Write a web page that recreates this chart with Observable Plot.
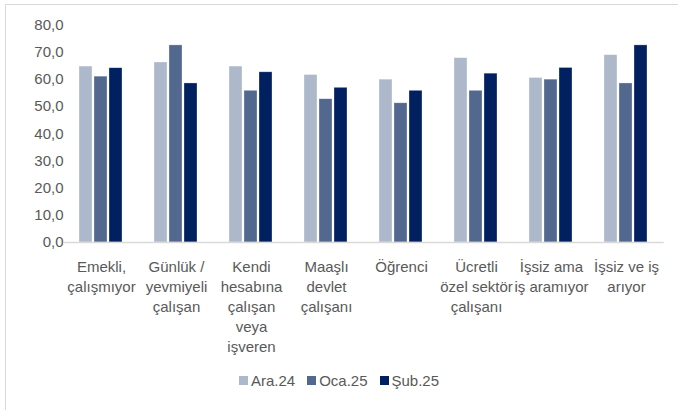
<!DOCTYPE html>
<html>
<head>
<meta charset="utf-8">
<script src="https://cdn.jsdelivr.net/npm/d3@7"></script>
<script src="https://cdn.jsdelivr.net/npm/@observablehq/plot@0.6"></script>
<style>
  html, body { margin: 0; padding: 0; background: #fff; }
  body { width: 678px; height: 410px; position: relative; overflow: hidden; font-family: "Liberation Sans", Arial, sans-serif; }
  #frame { position: absolute; left: 5px; top: 4px; width: 700px; height: 440px; border: 1px solid #d9d9d9; box-sizing: border-box; }
  #chart { position: absolute; left: 0; top: 0; }
  #legend { position: absolute; left: 0; width: 678px; top: 372px; display: flex; justify-content: center; gap: 12px; font-size: 15px; color: #595959; }
  #legend span.item { display: inline-flex; align-items: center; }
  #legend span.sw { display: inline-block; width: 9px; height: 9px; margin-right: 3px; }
</style>
</head>
<body>
<div id="frame"></div>
<div id="chart"></div>
<div id="legend"></div>
<script>
const categories = [
  "Emekli,\nçalışmıyor",
  "Günlük /\nyevmiyeli\nçalışan",
  "Kendi\nhesabına\nçalışan\nveya\nişveren",
  "Maaşlı\ndevlet\nçalışanı",
  "Öğrenci",
  "Ücretli\nözel sektör\nçalışanı",
  "İşsiz ama\niş aramıyor",
  "İşsiz ve iş\narıyor"
];
const seriesNames = ["Ara.24", "Oca.25", "Şub.25"];
const ara24 = [64.7, 66.2, 64.7, 61.6, 59.9, 67.8, 60.5, 68.9];
const oca25 = [61.0, 72.5, 55.8, 52.7, 51.2, 55.8, 59.9, 58.5];
const sub25 = [64.1, 58.5, 62.6, 56.9, 55.8, 62.1, 64.2, 72.5];
const colors = ["#adb9ca", "#53688f", "#002060"];
const yTicks = [0, 10, 20, 30, 40, 50, 60, 70, 80];

const seriesValues = [ara24, oca25, sub25];
const data = [];
categories.forEach((c, i) => {
  seriesNames.forEach((s, j) => data.push({category: c, series: s, value: seriesValues[j][i]}));
});

const chart = Plot.plot({
  width: 678,
  height: 360,
  marginLeft: 63,
  marginRight: 14,
  marginTop: 24.5,
  marginBottom: 118,
  style: {fontFamily: "'Liberation Sans', Arial, sans-serif", color: "#595959", background: "transparent"},
  fx: {domain: categories, paddingInner: 0.388, paddingOuter: 0.194, label: null, axis: null},
  x: {domain: seriesNames, paddingInner: 0.12, paddingOuter: 0, axis: null},
  y: {domain: [0, 80], ticks: yTicks, tickFormat: d => d.toFixed(1).replace(".", ","), tickSize: 0, tickPadding: 15, label: null},
  color: {domain: seriesNames, range: colors},
  marks: [
    Plot.barY(data, {fx: "category", x: "series", y: "value", fill: "series", stroke: "#ffffff", strokeOpacity: 0.5, strokeWidth: 0.6}),
    Plot.ruleY([0], {stroke: "#d9d9d9", strokeWidth: 1.5, insetLeft: -14.7, insetRight: -14.7}),
    Plot.axisFx({anchor: "bottom", tickSize: 0, tickPadding: 15, fontSize: 15, lineHeight: 1.34, label: null, fill: "#595959"})
  ]
});
document.getElementById("chart").appendChild(chart);
chart.querySelectorAll("g[aria-label='y-axis tick label']").forEach(n => n.setAttribute("font-size", 15));

const legend = document.getElementById("legend");
seriesNames.forEach((s, i) => {
  const item = document.createElement("span");
  item.className = "item";
  const sw = document.createElement("span");
  sw.className = "sw";
  sw.style.background = colors[i];
  item.appendChild(sw);
  item.appendChild(document.createTextNode(s));
  legend.appendChild(item);
});
</script>
</body>
</html>
